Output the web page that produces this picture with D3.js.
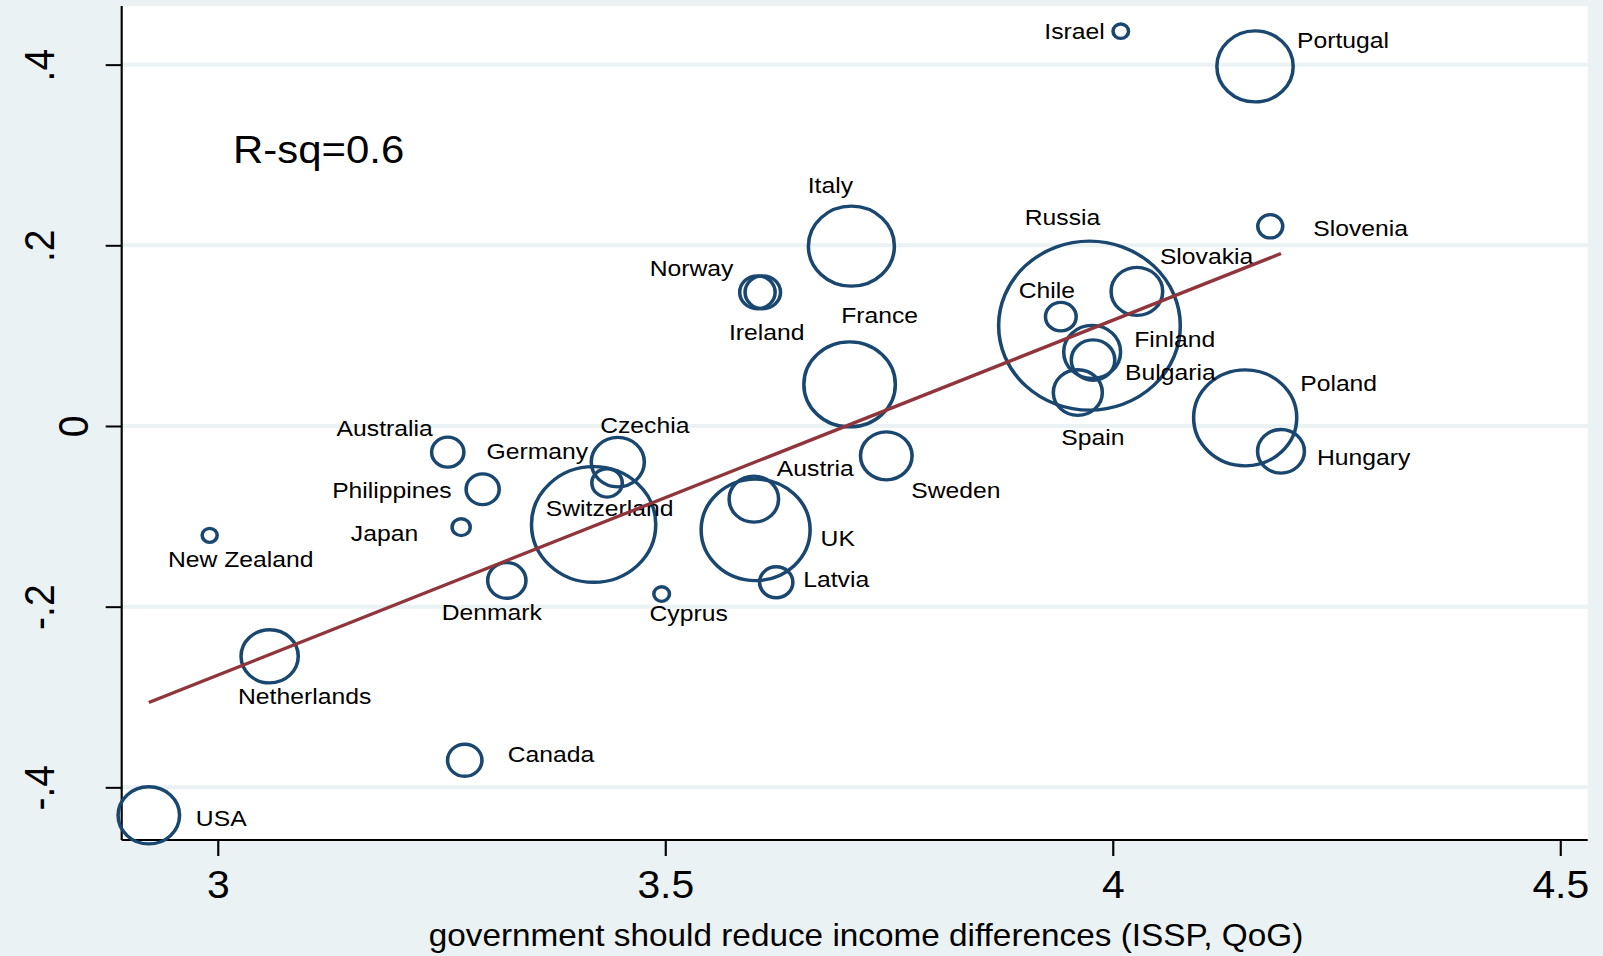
<!DOCTYPE html>
<html>
<head>
<meta charset="utf-8">
<script src="https://cdn.jsdelivr.net/npm/d3@7"></script>
<style>
  html, body { margin: 0; padding: 0; background: #eaf2f3; }
  svg { display: block; }
  text { font-family: "Liberation Sans", Arial, Helvetica, sans-serif; fill: #000; }
</style>
</head>
<body>
<script>
'use strict';

// data
var countries = ['Israel', 'Portugal', 'Slovenia', 'Italy', 'Russia', 'Slovakia', 'Chile',
  'Finland', 'Bulgaria', 'Spain', 'Poland', 'Hungary', 'Norway', 'Ireland', 'France',
  'Sweden', 'Austria', 'UK', 'Latvia', 'Cyprus', 'Czechia', 'Germany', 'Switzerland',
  'Australia', 'Philippines', 'Japan', 'Denmark', 'New Zealand', 'Netherlands', 'Canada', 'USA'];

// government should reduce income differences (ISSP, QoG)
var reduceDiff = [4.009, 4.159, 4.176, 3.708, 3.974, 4.027, 3.942,
  3.977, 3.978, 3.961, 4.148, 4.188, 3.603, 3.609, 3.706,
  3.747, 3.599, 3.601, 3.624, 3.496, 3.447, 3.435, 3.420,
  3.257, 3.296, 3.272, 3.323, 2.991, 3.058, 3.276, 2.923];

var outcome = [0.437, 0.398, 0.221, 0.199, 0.111, 0.149, 0.121,
  0.082, 0.073, 0.037, 0.009, -0.028, 0.148, 0.148, 0.046,
  -0.033, -0.081, -0.115, -0.173, -0.186, -0.040, -0.063, -0.109,
  -0.029, -0.070, -0.112, -0.171, -0.121, -0.255, -0.370, -0.431];

// marker weights (area)
var weights = [0.52, 12.6, 1.35, 16.0, 71.4, 5.76, 2.04,
  7.0, 4.1, 5.2, 23.0, 4.75, 2.72, 2.72, 18.1,
  5.76, 5.3, 25.7, 2.4, 0.53, 6.1, 2.0, 33.4,
  2.25, 2.37, 0.71, 3.17, 0.49, 7.08, 2.56, 8.18];

var xTicks = [3, 3.5, 4, 4.5];
var yTicks = [-0.4, -0.2, 0, 0.2, 0.4];

var fitIntercept = -1.4542, fitSlope = 0.3928;
var rsqText = 'R-sq=0.6';
var xTitle = 'government should reduce income differences (ISSP, QoG)';

// label placement relative to each marker: [dx, dy, anchor]
var labelPlacement = {
  'Israel': [-16, 0, 'end'], 'Portugal': [42, -26, 'start'], 'Slovenia': [43, 2, 'start'],
  'Italy': [-21, -61, 'middle'], 'Russia': [-27, -109, 'middle'], 'Slovakia': [23, -35, 'start'],
  'Chile': [-14, -27, 'middle'], 'Finland': [42, -13, 'start'], 'Bulgaria': [32, 12, 'start'],
  'Spain': [15, 44, 'middle'], 'Poland': [55, -35, 'start'], 'Hungary': [36, 6, 'start'],
  'Norway': [-24, -24, 'end'], 'Ireland': [4, 40, 'middle'], 'France': [30, -69, 'middle'],
  'Sweden': [25, 34, 'start'], 'Austria': [23, -31, 'start'], 'UK': [65, 8, 'start'],
  'Latvia': [27, -3, 'start'], 'Cyprus': [27, 19, 'middle'], 'Czechia': [27, -37, 'middle'],
  'Germany': [-19, -32, 'end'], 'Switzerland': [16, -16, 'middle'], 'Australia': [-15, -24, 'end'],
  'Philippines': [-31, 1, 'end'], 'Japan': [-43, 6, 'end'], 'Denmark': [-15, 32, 'middle'],
  'New Zealand': [31, 24, 'middle'], 'Netherlands': [35, 40, 'middle'], 'Canada': [43, -6, 'start'],
  'USA': [47, 3, 'start']
};

var W = 1603, H = 956;
var sx = 1.075; // the figure is stretched horizontally
var plot = {left: 121.7, right: 1587.7, top: 6, bottom: 840};
var navy = '#1a476f', maroon = '#90353b', bluish = '#eaf2f3';

var data = countries.map(function(c, i) {
  return {name: c, x: reduceDiff[i], y: outcome[i], w: weights[i]};
});

var x = d3.scaleLinear()
    .domain([2.8927, 4.5307])
    .range([plot.left / sx, plot.right / sx]);

var y = d3.scaleLinear()
    .domain([-0.4583, 0.4649])
    .range([plot.bottom, plot.top]);

var r = d3.scaleSqrt()
    .domain([0, 100])
    .range([0, 100]);

var svg = d3.select('body').append('svg')
    .attr('width', W)
    .attr('height', H);

svg.append('rect')
    .attr('width', W)
    .attr('height', H)
    .attr('fill', bluish);

var g = svg.append('g')
    .attr('transform', 'scale(' + sx + ',1)');

g.append('rect')
    .attr('x', x.range()[0])
    .attr('y', plot.top)
    .attr('width', x.range()[1] - x.range()[0])
    .attr('height', plot.bottom - plot.top)
    .attr('fill', '#fff');

// grid
g.append('g').selectAll('line')
    .data(yTicks)
  .enter().append('line')
    .attr('x1', x.range()[0])
    .attr('x2', x.range()[1])
    .attr('y1', y)
    .attr('y2', y)
    .attr('stroke', bluish)
    .attr('stroke-width', 4);

// axes (stata style: no leading zero, plain hyphen)
var fmtY = function(d) {
  return d === 0 ? '0' : d.toFixed(1).replace('0.', '.');
};

var xAxis = d3.axisBottom(x)
    .tickValues(xTicks)
    .tickFormat(function(d) { return String(d); })
    .tickSizeInner(16)
    .tickSizeOuter(0);

var yAxis = d3.axisLeft(y)
    .tickValues(yTicks)
    .tickFormat(fmtY)
    .tickSizeInner(16 / sx)
    .tickSizeOuter(0);

var xg = g.append('g')
    .attr('transform', 'translate(0,' + plot.bottom + ')')
    .call(xAxis);

xg.select('.domain').attr('stroke', '#000').attr('stroke-width', 2)
    .attr('d', 'M' + x.range()[0] + ',0H' + x.range()[1]);
xg.selectAll('.tick line').attr('stroke', '#000').attr('stroke-width', 2);
xg.selectAll('.tick text')
    .attr('y', 58)
    .attr('dy', 0)
    .style('font-size', '38px');

var yg = g.append('g')
    .attr('transform', 'translate(' + x.range()[0] + ',0)')
    .call(yAxis);

yg.select('.domain').attr('stroke', '#000').attr('stroke-width', 2)
    .attr('d', 'M0,' + plot.top + 'V' + plot.bottom);
yg.selectAll('.tick line').attr('stroke', '#000').attr('stroke-width', 2);
yg.selectAll('.tick text')
    .attr('x', null)
    .attr('dy', null)
    .attr('transform', function(d) {
      var off = d === 0 ? -34 : -68;
      return 'translate(' + (off / sx) + ',0) rotate(-90)';
    })
    .attr('text-anchor', 'middle')
    .style('font-size', '39px');

g.selectAll('.tick text').attr('fill', '#000');
xg.attr('font-family', null).attr('font-size', null);
yg.attr('font-family', null).attr('font-size', null);

// markers
g.append('g').selectAll('circle')
    .data(data)
  .enter().append('circle')
    .attr('cx', function(d) { return x(d.x); })
    .attr('cy', function(d) { return y(d.y); })
    .attr('r', function(d) { return r(d.w); })
    .attr('fill', 'none')
    .attr('stroke', navy)
    .attr('stroke-width', 3.3);

// marker labels
g.append('g').selectAll('text')
    .data(data)
  .enter().append('text')
    .attr('x', function(d) { return x(d.x) + labelPlacement[d.name][0] / sx; })
    .attr('y', function(d) { return y(d.y) + labelPlacement[d.name][1]; })
    .attr('dy', '0.35em')
    .attr('text-anchor', function(d) { return labelPlacement[d.name][2]; })
    .style('font-size', '23px')
    .text(function(d) { return d.name; });

// fitted line over the range of the data
var xExt = d3.extent(reduceDiff);
var line = d3.line()
    .x(function(d) { return x(d); })
    .y(function(d) { return y(fitIntercept + fitSlope * d); });

g.append('path')
    .datum(xExt)
    .attr('d', line)
    .attr('fill', 'none')
    .attr('stroke', maroon)
    .attr('stroke-width', 3.3);

// annotation and title
g.append('text')
    .attr('x', 233 / sx)
    .attr('y', 163)
    .style('font-size', '39px')
    .text(rsqText);

g.append('text')
    .attr('x', 866 / sx)
    .attr('y', 946)
    .attr('text-anchor', 'middle')
    .style('font-size', '31px')
    .text(xTitle);
</script>
</body>
</html>
